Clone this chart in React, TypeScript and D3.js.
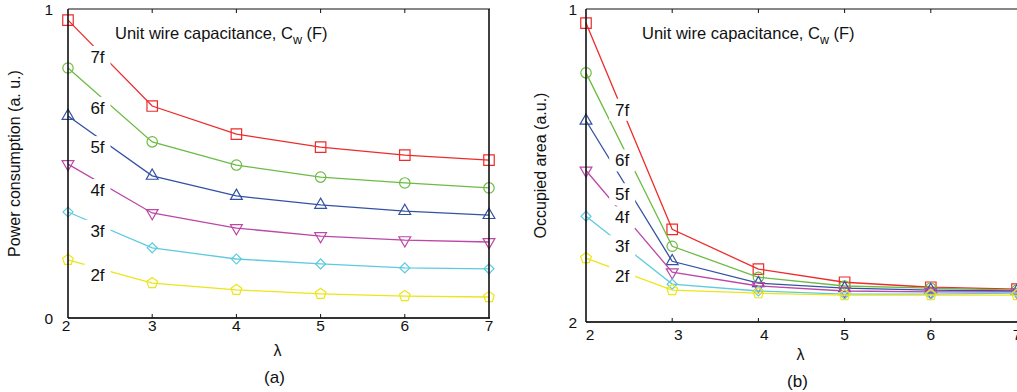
import { useEffect, useRef } from 'react';
import * as d3 from 'd3';

// λ values on the x axis
const lambdas = [2, 3, 4, 5, 6, 7];
const seriesNames = ['7f', '6f', '5f', '4f', '3f', '2f'];

// (a) power consumption, normalised 0..1
const power7f = [0.964, 0.686, 0.595, 0.553, 0.527, 0.511];
const power6f = [0.809, 0.570, 0.495, 0.456, 0.437, 0.421];
const power5f = [0.654, 0.460, 0.395, 0.366, 0.346, 0.333];
const power4f = [0.498, 0.340, 0.291, 0.265, 0.252, 0.246];
const power3f = [0.343, 0.227, 0.191, 0.175, 0.162, 0.159];
const power2f = [0.188, 0.113, 0.091, 0.078, 0.071, 0.068];

// (b) occupied area, normalised position between the "2" and "1" ticks
const area7f = [0.955, 0.296, 0.169, 0.127, 0.111, 0.105];
const area6f = [0.796, 0.242, 0.143, 0.115, 0.108, 0.102];
const area5f = [0.643, 0.194, 0.124, 0.108, 0.102, 0.099];
const area4f = [0.484, 0.159, 0.115, 0.099, 0.096, 0.096];
const area3f = [0.338, 0.121, 0.099, 0.089, 0.089, 0.092];
const area2f = [0.204, 0.102, 0.092, 0.086, 0.086, 0.086];

// in-plot curve labels, in data coords
const labelPosA = [[2.35, 0.845], [2.35, 0.68], [2.35, 0.553], [2.35, 0.414], [2.35, 0.282], [2.35, 0.139]];
const labelPosB = [[2.42, 0.678], [2.42, 0.516], [2.42, 0.408], [2.42, 0.334], [2.42, 0.242], [2.42, 0.146]];

const yTicksA = [{ v: 0, label: '0' }, { v: 1, label: '1' }];
const yTicksB = [{ v: 0, label: '2' }, { v: 1, label: '1' }];

const COLORS = ['#ee2b2b', '#6cbb44', '#3452a4', '#bb47a6', '#5ccbdf', '#ece51a'];
const FONT = 'Liberation Sans, Arial, sans-serif';

// pentagon marker (point up)
const symbolPentagon = {
  draw(ctx: any, size: number) {
    const r = Math.sqrt(size / 2.378);
    for (let i = 0; i < 5; i++) {
      const a = -Math.PI / 2 + (i * 2 * Math.PI) / 5;
      const x = r * Math.cos(a), y = r * Math.sin(a);
      if (i === 0) ctx.moveTo(x, y); else ctx.lineTo(x, y);
    }
    ctx.closePath();
  },
};

const markers: { type: any; size: number; rot: number }[] = [
  { type: d3.symbolSquare, size: 110, rot: 0 },
  { type: d3.symbolCircle, size: 85, rot: 0 },
  { type: d3.symbolTriangle, size: 60, rot: 0 },
  { type: d3.symbolTriangle, size: 60, rot: 180 },
  { type: d3.symbolSquare, size: 50, rot: 45 },
  { type: symbolPentagon, size: 75, rot: 0 },
];

interface PanelCfg {
  box: { left: number; top: number; right: number; bottom: number };
  series: number[][];
  labels: number[][];
  yTicks: { v: number; label: string }[];
  yTickGap: number;
  yTitle: string;
  yTitleX: number;
  titleDx: number;
  caption: string;
  tickDx: number;
  tickDy: number;
  drawRight: boolean;
}

function drawPanel(svg: d3.Selection<SVGSVGElement, unknown, null, undefined>, cfg: PanelCfg) {
  const { box } = cfg;
  const x = d3.scaleLinear().domain([2, 7]).range([box.left, box.right]);
  const y = d3.scaleLinear().domain([0, 1]).range([box.bottom, box.top]);
  const g = svg.append('g');

  // lines + markers
  cfg.series.forEach((vals, i) => {
    const pts = vals.map((v, j) => [lambdas[j], v] as [number, number]);
    const line = d3.line<[number, number]>().x(d => x(d[0])).y(d => y(d[1]));
    g.append('path').attr('d', line(pts)).attr('fill', 'none')
      .attr('stroke', COLORS[i]).attr('stroke-width', 1.3);
    const m = markers[i];
    const sym = d3.symbol().type(m.type).size(m.size);
    g.selectAll(null).data(pts).join('path')
      .attr('d', sym() as string)
      .attr('transform', d => `translate(${x(d[0])},${y(d[1])}) rotate(${m.rot})`)
      .attr('fill', 'none').attr('stroke', COLORS[i]).attr('stroke-width', 1.2);
  });

  // curve labels with white background
  cfg.labels.forEach((p, i) => {
    const cx = x(p[0]), cy = y(p[1]);
    g.append('rect').attr('x', cx - 13).attr('y', cy - 11).attr('width', 26).attr('height', 22).attr('fill', '#fff');
    g.append('text').attr('x', cx).attr('y', cy + 6).attr('text-anchor', 'middle')
      .attr('font-family', FONT).attr('font-size', 17).attr('fill', '#111').text(seriesNames[i]);
  });

  // title
  const t = g.append('text').attr('x', x(2) + cfg.titleDx).attr('y', 39)
    .attr('font-family', FONT).attr('font-size', 16.5).attr('fill', '#111');
  t.append('tspan').text('Unit wire capacitance, C');
  t.append('tspan').attr('font-size', 12.5).attr('dy', 5).text('w');
  t.append('tspan').attr('dy', -5).text(' (F)');

  // axes frame
  g.append('line').attr('x1', box.left).attr('x2', box.right + 1).attr('y1', box.top).attr('y2', box.top)
    .attr('stroke', '#111').attr('stroke-width', 1.2);
  g.append('line').attr('x1', box.left).attr('x2', box.right + 1).attr('y1', box.bottom).attr('y2', box.bottom)
    .attr('stroke', '#333').attr('stroke-width', 2.2);
  g.append('line').attr('x1', box.left).attr('x2', box.left).attr('y1', box.top).attr('y2', box.bottom)
    .attr('stroke', '#111').attr('stroke-width', 1.6);
  if (cfg.drawRight) {
    g.append('line').attr('x1', box.right).attr('x2', box.right).attr('y1', box.top).attr('y2', box.bottom)
      .attr('stroke', '#111').attr('stroke-width', 1.6);
  }

  // x ticks (inward, top and bottom) and labels
  lambdas.forEach(l => {
    const px = x(l);
    if (l > 2 && l < 7) {
      g.append('line').attr('x1', px).attr('x2', px).attr('y1', box.top).attr('y2', box.top + 4).attr('stroke', '#111');
      g.append('line').attr('x1', px).attr('x2', px).attr('y1', box.bottom).attr('y2', box.bottom - 4).attr('stroke', '#111');
    }
    g.append('text').attr('x', px + (l === 2 ? cfg.tickDx - 2 : l < 5 ? cfg.tickDx : 0)).attr('y', box.bottom + cfg.tickDy)
      .attr('text-anchor', 'middle').attr('font-family', FONT).attr('font-size', 15.5).attr('fill', '#111').text(String(l));
  });

  // y tick labels
  cfg.yTicks.forEach(tk => {
    g.append('text').attr('x', box.left - cfg.yTickGap).attr('y', y(tk.v) + 6).attr('text-anchor', 'end')
      .attr('font-family', FONT).attr('font-size', 15.5).attr('fill', '#111').text(tk.label);
  });

  const midX = (box.left + box.right) / 2;
  g.append('text').attr('x', midX - 1).attr('y', box.bottom + 38)
    .attr('text-anchor', 'middle').attr('font-family', FONT).attr('font-size', 16).attr('fill', '#111').text('λ');
  g.append('text').attr('x', midX - 4).attr('y', box.bottom + 65)
    .attr('text-anchor', 'middle').attr('font-family', FONT).attr('font-size', 17).attr('fill', '#111').text(cfg.caption);

  const yMid = (box.top + box.bottom) / 2;
  g.append('text').attr('transform', `translate(${cfg.yTitleX},${yMid}) rotate(-90)`)
    .attr('text-anchor', 'middle').attr('font-family', FONT).attr('font-size', 16).attr('fill', '#111').text(cfg.yTitle);
}

export default function App() {
  const ref = useRef<SVGSVGElement>(null);

  useEffect(() => {
    document.body.style.margin = '0';
    if (!ref.current) return;
    const svg = d3.select(ref.current);
    svg.selectAll('*').remove();

    drawPanel(svg, {
      box: { left: 68, top: 9, right: 489, bottom: 318 },
      series: [power7f, power6f, power5f, power4f, power3f, power2f],
      labels: labelPosA,
      yTicks: yTicksA,
      yTickGap: 15,
      yTitle: 'Power consumption (a. u.)',
      yTitleX: 20,
      titleDx: 47,
      caption: '(a)',
      tickDx: 0,
      tickDy: 13,
      drawRight: true,
    });
    drawPanel(svg, {
      box: { left: 586, top: 9, right: 1017, bottom: 322 },
      series: [area7f, area6f, area5f, area4f, area3f, area2f],
      labels: labelPosB,
      yTicks: yTicksB,
      yTickGap: 9,
      yTitle: 'Occupied area (a.u.)',
      yTitleX: 546,
      titleDx: 56,
      caption: '(b)',
      tickDx: 6,
      tickDy: 18,
      drawRight: false,
    });
  }, []);

  return <svg ref={ref} width={1017} height={392} style={{ display: 'block', background: '#fff' }} />;
}
